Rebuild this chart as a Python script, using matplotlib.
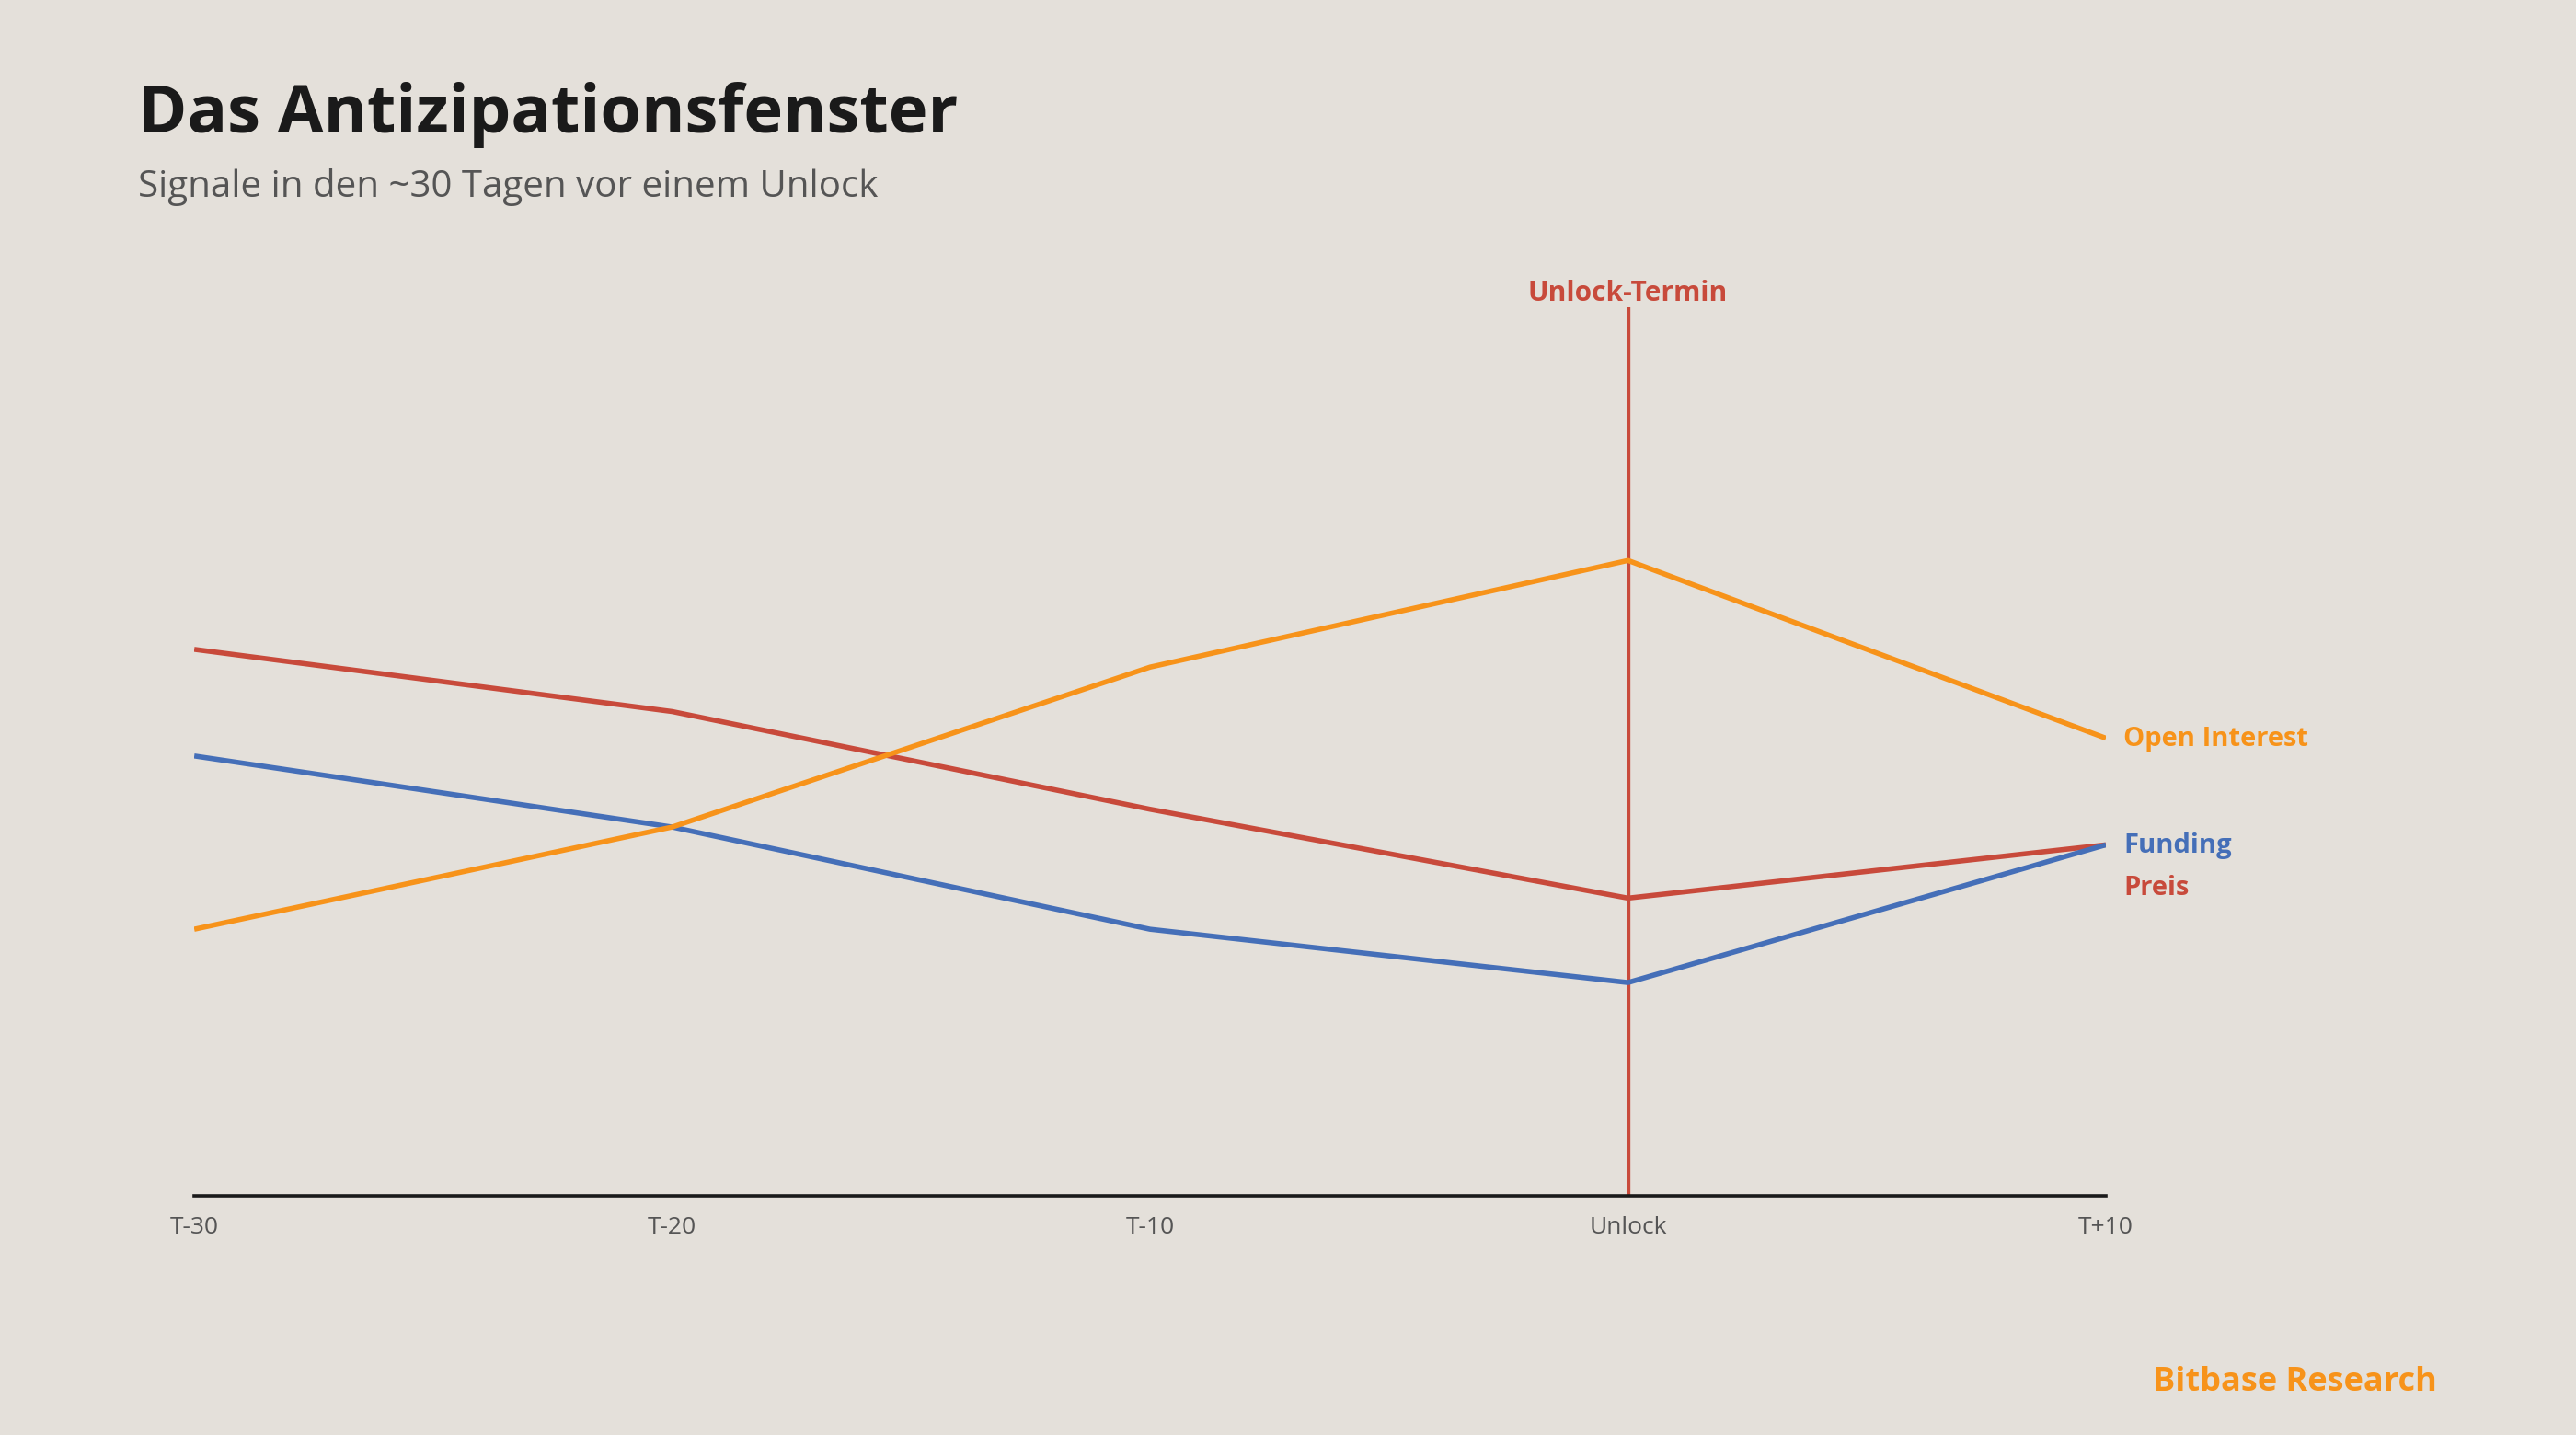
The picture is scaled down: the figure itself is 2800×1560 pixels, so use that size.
import matplotlib
import matplotlib.pyplot as plt

matplotlib.use("Agg")

BG = "#E4E0DA"
ORANGE = "#F7931A"
RED = "#C84A3B"
BLUE = "#456FB8"
INK = "#1A1A1A"
GREY = "#555555"

FONT = ["Open Sans", "DejaVu Sans"]

stages = ["T-30", "T-20", "T-10", "Unlock", "T+10"]
preis = [61.5, 54.5, 43.5, 33.5, 39.5]
funding = [49.5, 41.5, 30.0, 24.0, 39.5]
open_interest = [30.0, 41.5, 59.5, 71.5, 51.5]
unlock_idx = 3

plt.rcParams["font.family"] = FONT

fig = plt.figure(figsize=(28, 15.6), dpi=100)
fig.patch.set_facecolor(BG)
ax = fig.add_axes([0.0754, 0.1667, 0.7421, 0.6192])
ax.set_facecolor(BG)

x = list(range(len(stages)))
ax.plot(x, preis, color=RED, lw=4.0, solid_capstyle="butt", zorder=3)
ax.plot(x, funding, color=BLUE, lw=4.0, solid_capstyle="butt", zorder=3)
ax.plot(x, open_interest, color=ORANGE, lw=4.0, solid_capstyle="butt", zorder=4)

ax.axvline(unlock_idx, ymin=0, ymax=1, color=RED, lw=2.4, zorder=2)
ax.annotate("Unlock-Termin", xy=(unlock_idx, 100), xytext=(0, 0),
            textcoords="offset points", ha="center", va="bottom",
            fontsize=21.5, fontweight="bold", color=RED)

ax.set_xlim(0, len(stages) - 1)
ax.set_ylim(0, 100)
ax.set_xticks(x)
ax.set_xticklabels(stages)
ax.set_yticks([])
ax.tick_params(axis="x", length=0, pad=16, labelsize=19, labelcolor=GREY)
for side in ["top", "right", "left"]:
    ax.spines[side].set_visible(False)
ax.spines["bottom"].set_color(INK)
ax.spines["bottom"].set_linewidth(2.6)

# end labels
end_labels = [
    ("Open Interest", open_interest[-1], ORANGE, -1),
    ("Funding", funding[-1], BLUE, -1),
    ("Preis", preis[-1], RED, -34),
]
for text, val, col, dy in end_labels:
    ax.annotate(text, xy=(x[-1], val), xytext=(14, dy),
                textcoords="offset points", ha="left", va="center",
                fontsize=21, fontweight="bold", color=col,
                annotation_clip=False)

fig.text(0.0536, 0.908, "Das Antizipationsfenster", fontsize=52,
         fontweight="bold", color=INK, ha="left", va="baseline")
fig.text(0.0536, 0.863, "Signale in den ~30 Tagen vor einem Unlock",
         fontsize=29, color=GREY, ha="left", va="baseline")
fig.text(0.946, 0.0365, "Bitbase Research", fontsize=26, fontweight="bold",
         color=ORANGE, ha="right", va="center")

fig.savefig("out.png", dpi=100, facecolor=BG)
